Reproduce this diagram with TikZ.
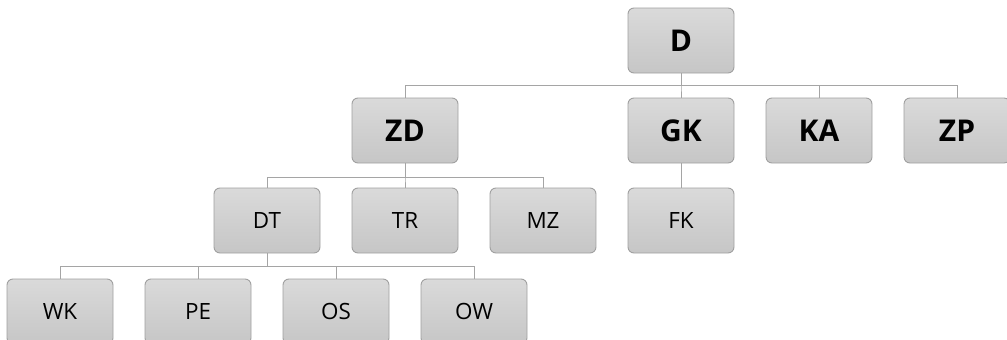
\documentclass[tikz,border=0pt]{standalone}
\usepackage{fontspec}
\setmainfont{Open Sans}
\definecolor{boxtop}{RGB}{218,218,218}
\definecolor{boxbot}{RGB}{198,198,198}
\definecolor{boxline}{RGB}{160,160,160}
\definecolor{wire}{RGB}{165,165,165}
\begin{document}
\begin{tikzpicture}[x=1pt,y=-1pt,
  unit/.style={draw=boxline, line width=0.9pt, rounded corners=6pt,
    top color=boxtop, bottom color=boxbot, minimum width=106pt,
    minimum height=65pt, inner sep=0pt, text=black},
  major/.style={unit, font=\fontsize{30}{34}\selectfont\bfseries},
  minor/.style={unit, font=\fontsize{22.4}{26}\selectfont},
  wire/.style={draw=wire, line width=1pt}]
\useasboundingbox (0,0) rectangle (1007,340);
\begin{scope}
\clip (0,0) rectangle (1007,340);
% tree levels
\node[major] (D)  at (681,40.5) {D};
\node[major] (ZD) at (405,130.5) {ZD};
\node[major] (GK) at (681,130.5) {GK};
\node[major] (KA) at (819,130.5) {KA};
\node[major] (ZP) at (957,130.5) {ZP};
\node[minor] (DT) at (267,220.5) {DT};
\node[minor] (TR) at (405,220.5) {TR};
\node[minor] (MZ) at (543,220.5) {MZ};
\node[minor] (FK) at (681,220.5) {FK};
\node[minor] (WK) at (60,311.5) {WK};
\node[minor] (PE) at (198,311.5) {PE};
\node[minor] (OS) at (336,311.5) {OS};
\node[minor] (OW) at (474,311.5) {OW};
% bus heights
\coordinate (b1) at (0,85.5);
\coordinate (b2) at (0,177);
\coordinate (b3) at (0,266);
% connectors
\foreach \c in {ZD,GK,KA,ZP}
  \draw[wire] (D.south) |- (\c.north |- b1) -- (\c.north);
\foreach \c in {DT,TR,MZ}
  \draw[wire] (ZD.south) |- (\c.north |- b2) -- (\c.north);
\draw[wire] (GK.south) -- (FK.north);
\foreach \c in {WK,PE,OS,OW}
  \draw[wire] (DT.south) |- (\c.north |- b3) -- (\c.north);
\end{scope}
\end{tikzpicture}
\end{document}
